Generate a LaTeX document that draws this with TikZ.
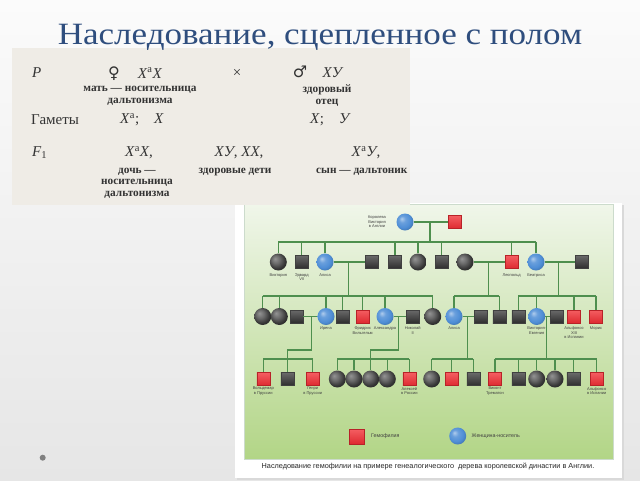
\documentclass[tikz,border=0pt]{standalone}
\usepackage{fontspec}
\setmainfont{Liberation Serif}
\newfontfamily\lsans{Liberation Sans}
\newfontfamily\djv{DejaVu Sans}
\usetikzlibrary{calc}
\definecolor{ttl}{HTML}{2F4E7E}
\definecolor{bgt}{HTML}{FBFBFB}
\definecolor{bgb}{HTML}{E6E6E6}
\definecolor{tbl}{HTML}{EFECE6}
\definecolor{tink}{HTML}{333333}
\definecolor{grt}{HTML}{F0F6EA}
\definecolor{grb}{HTML}{B2D586}
\definecolor{pline}{HTML}{4E8F4E}
\definecolor{sqt}{HTML}{6A6A6A}
\definecolor{sqb}{HTML}{2E2E2E}
\definecolor{rsqt}{HTML}{F45E62}
\definecolor{rsqb}{HTML}{DE2A30}
\definecolor{rsqd}{HTML}{B82228}
\definecolor{bcirc}{HTML}{4F8ED6}
\definecolor{bul}{HTML}{808080}
\pgfdeclareradialshading{dball}{\pgfqpoint{-10bp}{10bp}}{color(0bp)=(black!42); color(12bp)=(black!58); color(24bp)=(black!78); color(34bp)=(black!88); color(50bp)=(black)}
\pgfdeclareradialshading{bball}{\pgfqpoint{-10bp}{10bp}}{color(0bp)=(bcirc!45!white); color(10bp)=(bcirc!85!white); color(22bp)=(bcirc); color(32bp)=(bcirc!80!black); color(50bp)=(bcirc!40!black)}
\begin{document}
\begin{tikzpicture}[x=1pt,y=-1pt,
 ln/.style={draw=pline, line width=1.1pt},
 sq/.style={rectangle, minimum size=13pt, inner sep=0pt, draw=black!75, top color=sqt, bottom color=sqb},
 rsq/.style={rectangle, minimum size=13pt, inner sep=0pt, draw=rsqd, top color=rsqt, bottom color=rsqb},
 cir/.style={circle, minimum size=17pt, inner sep=0pt, shading=dball},
 bcir/.style={circle, minimum size=17pt, inner sep=0pt, shading=bball},
 lab/.style={font=\lsans\fontsize{4}{4.5}\selectfont, align=center, inner sep=0pt, text=black!75, anchor=north},
 fm/.style={font=\fontsize{15}{17}\selectfont, inner sep=0pt, text=tink},
 capt/.style={font=\bfseries\fontsize{11.3}{11.7}\selectfont, inner sep=0pt, align=center, text=tink},
 sym/.style={font=\djv\fontsize{16}{18}\selectfont, inner sep=0pt, text=tink}]
\useasboundingbox (0,0) rectangle (640,480);
\shade[top color=bgt, bottom color=bgb] (0,0) rectangle (640,480);
% pedigree frame
\fill[black!15] (237,205) rectangle (624,480);
\fill[white] (235,203) rectangle (622,478);
\shade[top color=grt, bottom color=grb, draw=green!30!black!20] (244,204) rectangle (613,459);
% table
\begin{scope}
\clip (12,48) rectangle (410,205);
\fill[tbl] (12,48) rectangle (410,205);
\node[fm, anchor=west] (tP) at (32,73) {\textit{P}};
\node[sym] (tfem) at (114,74) {♀};
\node[fm] (tmx) at (150,73) {\textit{X}\textsuperscript{a}\textit{X}};
\node[fm] (tx) at (237,73) {×};
\node[sym] (tmale) at (300,72) {♂};
\node[fm] (tfx) at (333,73) {\textit{XУ}};
\node[capt] (tc1) at (140,95.8) {мать — носительница\\дальтонизма};
\node[capt] (tc2) at (327,95.8) {здоровый\\отец};
\node[fm, anchor=west] (tg) at (31,120) {Гаметы};
\node[fm, anchor=west] (tg1) at (120,120) {\textit{X}\textsuperscript{a};\quad\textit{X}};
\node[fm, anchor=west] (tg2) at (310,120) {\textit{X};\quad\textit{У}};
\node[fm, anchor=west] (tF) at (32,153) {\textit{F}\textsubscript{1}};
\node[fm] (tf1) at (139,153) {\textit{X}\textsuperscript{a}\textit{X},};
\node[fm] (tf2) at (239,153) {\textit{XУ}, \textit{XX},};
\node[fm] (tf3) at (366,153) {\textit{X}\textsuperscript{a}\textit{У},};
\node[capt] (tc3) at (137,183.3) {дочь —\\носительница\\дальтонизма};
\node[capt] (tc4) at (235,171.7) {здоровые дети};
\node[capt, anchor=west] (tc5) at (316,171.7) {сын — дальтоник};
\end{scope}
% title
\node[font=\fontsize{31}{34}\selectfont, text=ttl, anchor=base, inner sep=0pt] (title) at (320,44) {\scalebox{1.13}[1]{Наследование, сцепленное с полом}};
% bullet
\fill[bul] (42.7,457.7) circle (3pt);
% ---------- pedigree ----------
\coordinate (y1) at (0,242);
\coordinate (y2) at (0,296);
\coordinate (y3) at (0,359);
\coordinate (k350) at (0,350);
% gen 1
\node[bcir] (q) at (405,222) {};
\node[rsq] (k) at (455,222) {};
% gen 2
\node[cir] (g2a) at (278.3,262) {};
\node[sq] (g2b) at (301.7,262) {};
\node[bcir] (g2c) at (325,262) {};
\node[sq] (g2d) at (372,262) {};
\node[sq] (g2e) at (395,262) {};
\node[cir] (g2f) at (418,262) {};
\node[sq] (g2g) at (441.7,262) {};
\node[cir] (g2h) at (465,262) {};
\node[rsq] (g2i) at (511.7,262) {};
\node[bcir] (g2j) at (536,262) {};
\node[sq] (g2k) at (581.7,262) {};
% gen 3
\node[cir] (g3a) at (262.7,316.5) {};
\node[cir] (g3b) at (279.3,316.5) {};
\node[sq] (g3c) at (296.7,316.5) {};
\node[bcir] (g3d) at (326,316.5) {};
\node[sq] (g3e) at (342.7,316.5) {};
\node[rsq] (g3f) at (362.7,316.5) {};
\node[bcir] (g3g) at (385,316.5) {};
\node[sq] (g3h) at (412.7,316.5) {};
\node[cir] (g3i) at (432.7,316.5) {};
\node[bcir] (g3j) at (454,316.5) {};
\node[sq] (g3k) at (480.7,316.5) {};
\node[sq] (g3l) at (499.3,316.5) {};
\node[sq] (g3m) at (518.3,316.5) {};
\node[bcir] (g3n) at (536.7,316.5) {};
\node[sq] (g3o) at (556.7,316.5) {};
\node[rsq] (g3p) at (574,316.5) {};
\node[rsq] (g3q) at (596,316.5) {};
% gen 4
\node[rsq] (g4a) at (263.3,379) {};
\node[sq] (g4b) at (287.3,379) {};
\node[rsq] (g4c) at (312.7,379) {};
\node[cir] (g4d) at (337.3,379) {};
\node[cir] (g4e) at (354,379) {};
\node[cir] (g4f) at (370.7,379) {};
\node[cir] (g4g) at (387.3,379) {};
\node[rsq] (g4h) at (409.3,379) {};
\node[cir] (g4i) at (431.7,379) {};
\node[rsq] (g4j) at (451.7,379) {};
\node[sq] (g4k) at (473.3,379) {};
\node[rsq] (g4l) at (495,379) {};
\node[sq] (g4m) at (518.3,379) {};
\node[cir] (g4n) at (536.7,379) {};
\node[cir] (g4o) at (555,379) {};
\node[sq] (g4p) at (573.3,379) {};
\node[rsq] (g4q) at (596.7,379) {};
% connectors gen1 -> gen2
\draw[ln] (q) -- (k);
\coordinate (m1) at ($(q)!0.5!(k)$);
\draw[ln] (m1) -- (m1 |- y1);
\draw[ln] (g2a |- y1) -- (g2j |- y1);
\foreach \n in {a,b,c,e,f,g,i,j} \draw[ln] (g2\n.north) -- (g2\n |- y1);
% gen2 -> gen3
\draw[ln] (g2c) -- (g2d);
\draw[ln] (g2h) -- (g2i);
\draw[ln] (g2j) -- (g2k);
\coordinate (m2a) at ($(g2c)!0.5!(g2d)$);
\coordinate (m2b) at ($(g2h)!0.5!(g2i)$);
\coordinate (m2c) at ($(g2j)!0.5!(g2k)$);
\draw[ln] (m2a) -- (m2a |- y2);
\draw[ln] (m2b) -- (m2b |- y2);
\draw[ln] (m2c) -- (m2c |- y2);
\draw[ln] (g3a |- y2) -- (g3i |- y2);
\draw[ln] (g3j |- y2) -- (g3l |- y2);
\draw[ln] (g3m |- y2) -- (g3q |- y2);
\foreach \n in {a,b,d,e,f,g,i,j,l,m,n,p,q} \draw[ln] (g3\n.north) -- (g3\n |- y2);
% gen3 -> gen4
\draw[ln] (g3c) -- (g3d);
\draw[ln] (g3g) -- (g3h);
\draw[ln] (g3j) -- (g3k);
\draw[ln] (g3n) -- (g3o);
\coordinate (m3a) at ($(g3c)!0.5!(g3d)$);
\coordinate (m3b) at ($(g3g)!0.5!(g3h)$);
\coordinate (m3c) at ($(g3j)!0.5!(g3k)$);
\coordinate (m3d) at ($(g3n)!0.5!(g3o)$);
\draw[ln] (m3a) -- (m3a |- k350) -| (g4b.north);
\draw[ln] (m3b) -- (m3b |- k350) -| (g4f.north);
\draw[ln] (m3c) -- (m3c |- y3);
\draw[ln] (m3d) -- (m3d |- y3);
\draw[ln] (g4a |- y3) -- (g4c |- y3);
\draw[ln] (g4d |- y3) -- (g4h |- y3);
\draw[ln] (g4i |- y3) -- (g4k |- y3);
\draw[ln] (g4l |- y3) -- (g4q |- y3);
\foreach \n in {a,c,d,e,g,h,i,j,k,l,m,n,o,p,q} \draw[ln] (g4\n.north) -- (g4\n |- y3);
% labels
\node[lab, anchor=center] (lq) at (377,221.7) {Королева\\Виктория\\в Англии};
\node[lab] (l2a) at ($(g2a)+(0,11.5)$) {Виктория};
\node[lab] (l2b) at ($(g2b)+(0,11.5)$) {Эдвард\\VII};
\node[lab] (l2c) at ($(g2c)+(0,11.5)$) {Алиса};
\node[lab] (l2i) at ($(g2i)+(0,11.5)$) {Леопольд};
\node[lab] (l2j) at ($(g2j)+(0,11.5)$) {Беатриса};
\node[lab] (l3d) at ($(g3d)+(0,10.3)$) {Ирена};
\node[lab] (l3f) at ($(g3f)+(0,10.3)$) {Фридрих\\Вильгельм};
\node[lab] (l3g) at ($(g3g)+(0,10.3)$) {Александра};
\node[lab] (l3h) at ($(g3h)+(0,10.3)$) {Николай\\II};
\node[lab] (l3j) at ($(g3j)+(0,10.3)$) {Алиса};
\node[lab] (l3n) at ($(g3n)+(0,10.3)$) {Виктория-\\Евгения};
\node[lab] (l3p) at ($(g3p)+(0,10.3)$) {Альфонсо\\XIII\\в Испании};
\node[lab] (l3q) at ($(g3q)+(0,10.3)$) {Морис};
\node[lab] (l4a) at ($(g4a)+(0,8)$) {Вольдемар\\в Пруссии};
\node[lab] (l4c) at ($(g4c)+(0,8)$) {Генри\\в Пруссии};
\node[lab] (l4h) at ($(g4h)+(0,8)$) {Алексей\\в России};
\node[lab] (l4l) at ($(g4l)+(0,8)$) {Виконт\\Трематон};
\node[lab] (l4q) at ($(g4q)+(0,8)$) {Альфонсо\\в Испании};
% legend
\node[rsq, minimum size=15pt] (lgr) at (356.7,436.5) {};
\node[lab, anchor=west, font=\lsans\fontsize{5.3}{6}\selectfont] (lgrt) at (371,436.5) {Гемофилия};
\node[bcir] (lgb) at (457.7,436) {};
\node[lab, anchor=west, font=\lsans\fontsize{5.3}{6}\selectfont] (lgbt) at (471.5,436) {Женщина-носитель};
% caption
\node[font=\lsans\fontsize{7.3}{8}\selectfont, text=black!85, inner sep=0pt] (cap) at (428,466.5) {Наследование гемофилии на примере генеалогического\ \ дерева королевской династии в Англии.};
\end{tikzpicture}
\end{document}
